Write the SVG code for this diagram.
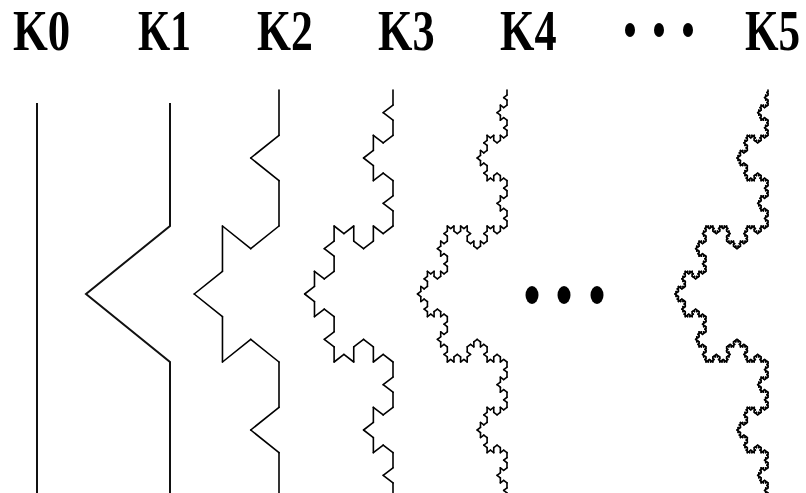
<svg xmlns="http://www.w3.org/2000/svg" width="806" height="493" viewBox="0 0 806 493">
<style>
.lbl{font-family:"Liberation Serif","Times New Roman",serif;font-weight:bold;font-size:56px;fill:#000}
.bar{fill:none;stroke:#111;stroke-width:2}
.dot{fill:#000}
</style>
<defs>
<line id="k0" x1="0" y1="0" x2="1" y2="0" stroke="#000" stroke-width="1.6" stroke-linecap="round" vector-effect="non-scaling-stroke"/>
<g id="k1"><use href="#k0" transform="scale(.3333333)"/><use href="#k0" transform="translate(.3333333 0) rotate(-60) scale(.3333333)"/><use href="#k0" transform="translate(.5 -.2886751) rotate(60) scale(.3333333)"/><use href="#k0" transform="translate(.6666667 0) scale(.3333333)"/></g>
<g id="k2"><use href="#k1" transform="scale(.3333333)"/><use href="#k1" transform="translate(.3333333 0) rotate(-60) scale(.3333333)"/><use href="#k1" transform="translate(.5 -.2886751) rotate(60) scale(.3333333)"/><use href="#k1" transform="translate(.6666667 0) scale(.3333333)"/></g>
<g id="k3"><use href="#k2" transform="scale(.3333333)"/><use href="#k2" transform="translate(.3333333 0) rotate(-60) scale(.3333333)"/><use href="#k2" transform="translate(.5 -.2886751) rotate(60) scale(.3333333)"/><use href="#k2" transform="translate(.6666667 0) scale(.3333333)"/></g>
<g id="k4"><use href="#k3" transform="scale(.3333333)"/><use href="#k3" transform="translate(.3333333 0) rotate(-60) scale(.3333333)"/><use href="#k3" transform="translate(.5 -.2886751) rotate(60) scale(.3333333)"/><use href="#k3" transform="translate(.6666667 0) scale(.3333333)"/></g>
<g id="k5"><use href="#k4" transform="scale(.3333333)"/><use href="#k4" transform="translate(.3333333 0) rotate(-60) scale(.3333333)"/><use href="#k4" transform="translate(.5 -.2886751) rotate(60) scale(.3333333)"/><use href="#k4" transform="translate(.6666667 0) scale(.3333333)"/></g>
</defs>
<rect width="806" height="493" fill="#fff"/>
<g id="labels">
<text class="lbl" transform="translate(13 50) scale(.8 1)">K0</text>
<text class="lbl" transform="translate(138 50) scale(.74 1)">K1</text>
<text class="lbl" transform="translate(257 50) scale(.78 1)">K2</text>
<text class="lbl" transform="translate(378 50) scale(.79 1)">K3</text>
<text class="lbl" transform="translate(500 50) scale(.79 1)">K4</text>
<text class="lbl" transform="translate(745 50) scale(.77 1)">K5</text>
<ellipse class="dot" cx="630" cy="30" rx="5" ry="7"/>
<ellipse class="dot" cx="659" cy="30" rx="5" ry="7"/>
<ellipse class="dot" cx="688" cy="30" rx="5" ry="7"/>
</g>
<g id="curve-k0"><line class="bar" x1="37" y1="103" x2="37" y2="498"/></g>
<g id="curve-k1"><polyline class="bar" points="170,103 170,226 86,294 170,362 170,498"/></g>
<g id="curve-k2"><use href="#k2" transform="translate(279 498) scale(.72 1) rotate(-90) scale(408)"/></g>
<g id="curve-k3"><use href="#k3" transform="translate(393 498) scale(.75 1) rotate(-90) scale(408)"/></g>
<g id="curve-k4"><use href="#k4" transform="translate(507 498) scale(.76 1) rotate(-90) scale(408)"/></g>
<g id="ellipsis">
<ellipse class="dot" cx="532" cy="295" rx="6.5" ry="9"/>
<ellipse class="dot" cx="564" cy="295" rx="6.5" ry="9"/>
<ellipse class="dot" cx="597" cy="295" rx="6.5" ry="9"/>
</g>
<g id="curve-k5"><use href="#k5" transform="translate(768 498) scale(.79 1) rotate(-90) scale(408)"/></g>
</svg>
